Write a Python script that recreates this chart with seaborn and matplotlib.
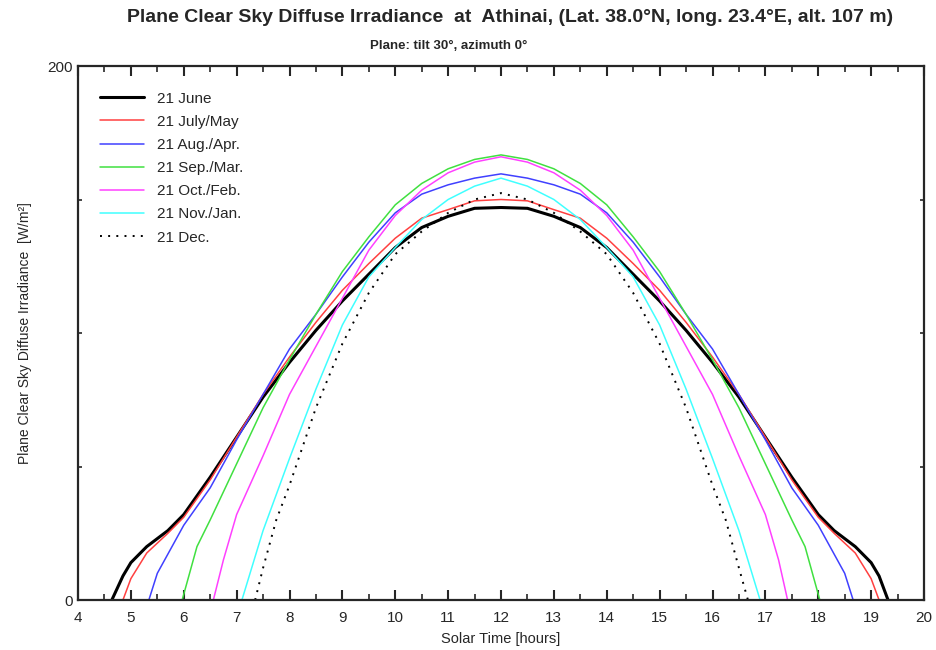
import matplotlib
matplotlib.use("Agg")
import matplotlib.pyplot as plt
import seaborn as sns
import pandas as pd
from matplotlib.ticker import MultipleLocator, FixedLocator

sns.set_style("ticks")
plt.rcParams['font.family'] = ['Liberation Sans', 'DejaVu Sans']

# ---- data (solar time [h], irradiance [W/m2]) ----
june_t = [4.64, 4.85, 5.0, 5.3, 5.7, 6.0, 6.25, 6.5, 7.0, 7.5, 8.0, 8.5, 9.0, 9.5, 10.0, 10.5, 11.0, 11.5, 12.0,
          12.5, 13.0, 13.5, 14.0, 14.5, 15.0, 15.5, 16.0, 16.5, 17.0, 17.5, 17.75, 18.0, 18.3, 18.7, 19.0, 19.15, 19.32]
june_v = [0, 9, 14, 20, 26, 32, 39, 46, 61, 76, 89, 101, 112, 122, 132, 139.5, 143.7, 146.7, 147,
          146.7, 143.7, 139.5, 132, 122, 112, 101, 89, 76, 61, 46, 39, 32, 26, 20, 14, 9, 0]

julmay_t = [4.85, 5.0, 5.3, 5.7, 6.0, 6.5, 7.0, 7.5, 8.0, 8.5, 9.0, 9.5, 10.0, 10.5, 11.0, 11.5, 12.0,
            12.5, 13.0, 13.5, 14.0, 14.5, 15.0, 15.5, 16.0, 16.5, 17.0, 17.5, 18.0, 18.3, 18.7, 19.0, 19.15]
julmay_v = [0, 8, 17.6, 25, 31, 45, 61, 77, 91, 104, 116, 126, 135.5, 143, 146.2, 149.5, 150,
            149.5, 146.2, 143, 135.5, 126, 116, 104, 91, 77, 61, 45, 31, 25, 17.6, 8, 0]

augapr_t = [5.34, 5.5, 6.0, 6.5, 7.0, 7.5, 8.0, 8.5, 9.0, 9.5, 10.0, 10.5, 11.0, 11.5, 12.0,
            12.5, 13.0, 13.5, 14.0, 14.5, 15.0, 15.5, 16.0, 16.5, 17.0, 17.5, 18.0, 18.5, 18.66]
augapr_v = [0, 10, 28, 42, 60, 77, 94, 107, 121, 134, 145, 152, 155.5, 158, 159.6,
            158, 155.5, 152, 145, 134, 121, 107, 94, 77, 60, 42, 28, 10, 0]

sepmar_t = [5.97, 6.25, 6.5, 7.0, 7.5, 8.0, 8.5, 9.0, 9.5, 10.0, 10.5, 11.0, 11.5, 12.0,
            12.5, 13.0, 13.5, 14.0, 14.5, 15.0, 15.5, 16.0, 16.5, 17.0, 17.5, 17.75, 18.03]
sepmar_v = [0, 20, 30, 51, 72, 90, 107, 123, 136, 148, 156, 161.5, 165, 166.7,
            165, 161.5, 156, 148, 136, 123, 107, 90, 72, 51, 30, 20, 0]

octfeb_t = [6.56, 6.75, 7.0, 7.5, 8.0, 8.5, 9.0, 9.5, 10.0, 10.5, 11.0, 11.5, 12.0,
            12.5, 13.0, 13.5, 14.0, 14.5, 15.0, 15.5, 16.0, 16.5, 17.0, 17.25, 17.42]
octfeb_v = [0, 15, 32, 54, 77, 95, 113, 131, 144, 153.5, 160, 164, 166,
            164, 160, 153.5, 144, 131, 113, 95, 77, 54, 32, 15, 0]

novjan_t = [7.1, 7.5, 8.0, 8.5, 9.0, 9.5, 10.0, 10.5, 11.0, 11.5, 12.0,
            12.5, 13.0, 13.5, 14.0, 14.5, 15.0, 15.5, 16.0, 16.5, 16.9]
novjan_v = [0, 26, 53, 79, 103, 121, 132, 142.5, 150, 155, 158,
            155, 150, 142.5, 132, 121, 103, 79, 53, 26, 0]

dec_t = [7.35, 7.5, 7.75, 8.0, 8.5, 9.0, 9.5, 10.0, 10.5, 11.0, 11.5, 12.0,
         12.5, 13.0, 13.5, 14.0, 14.5, 15.0, 15.5, 16.0, 16.25, 16.5, 16.67]
dec_v = [0, 12, 30, 43, 72, 96, 115, 129.5, 138, 145, 150, 152.4,
         150, 145, 138, 129.5, 115, 96, 72, 43, 30, 12, 0]

labels = ["21 June", "21 July/May", "21 Aug./Apr.", "21 Sep./Mar.",
          "21 Oct./Feb.", "21 Nov./Jan.", "21 Dec."]
x_ticks = list(range(4, 21))
y_tick_labels = [0, 200]

series = [(june_t, june_v), (julmay_t, julmay_v), (augapr_t, augapr_v), (sepmar_t, sepmar_v),
          (octfeb_t, octfeb_v), (novjan_t, novjan_v), (dec_t, dec_v)]

frames = []
for lab, (t, v) in zip(labels, series):
    frames.append(pd.DataFrame({"t": t, "v": v, "series": lab}))
df = pd.concat(frames, ignore_index=True)

colors = ["#000000", "#ff4040", "#4040ff", "#40e040", "#ff40ff", "#40ffff", "#000000"]
widths = [2.2, 1.1, 1.1, 1.1, 1.1, 1.1, 1.4]
styles = ["-", "-", "-", "-", "-", "-", (0, (1, 3.2))]

fig = plt.figure(figsize=(9.36, 6.5), dpi=100)
ax = fig.add_axes([78 / 936, 50 / 650, 846 / 936, 534 / 650])

for lab, c, w, s in zip(labels, colors, widths, styles):
    sub = df[df["series"] == lab]
    sns.lineplot(data=sub, x="t", y="v", ax=ax, color=c, linewidth=w, linestyle=s,
                 label=lab, sort=False, estimator=None)

ax.set_xlim(4, 20)
ax.set_ylim(0, 200)
ax.xaxis.set_major_locator(FixedLocator(x_ticks))
ax.xaxis.set_minor_locator(MultipleLocator(0.5))
ax.yaxis.set_major_locator(FixedLocator(y_tick_labels))
ax.yaxis.set_minor_locator(FixedLocator([50, 100, 150]))
ax.tick_params(axis='x', which='major', direction='in', length=7, width=1.5,
               top=True, labelsize=11, pad=8)
ax.tick_params(axis='x', which='minor', direction='in', length=4, width=1.2, top=True)
ax.tick_params(axis='y', which='major', direction='in', length=0, labelsize=11, pad=4)
ax.tick_params(axis='y', which='minor', direction='in', length=3, width=1.2, right=True)
for sp in ax.spines.values():
    sp.set_linewidth(1.6)
    sp.set_visible(True)

ax.set_xlabel("Solar Time [hours]", fontsize=10.5, labelpad=5)
ax.set_ylabel("Plane Clear Sky Diffuse Irradiance  [W/m²]", fontsize=10, labelpad=11)

fig.text(510 / 936, 1 - 18 / 650, "Plane Clear Sky Diffuse Irradiance  at  Athinai, (Lat. 38.0°N, long. 23.4°E, alt. 107 m)",
         ha='center', va='center', fontsize=14, fontweight='bold')
fig.text(449 / 936, 1 - 46 / 650, "Plane: tilt 30°, azimuth 0°",
         ha='center', va='center', fontsize=9.5, fontweight='bold')

leg = ax.legend(loc='upper left', bbox_to_anchor=(0.026, 0.952), frameon=False,
                borderaxespad=0, borderpad=0, fontsize=11, handlelength=2.9,
                handletextpad=0.8, labelspacing=0.6)

fig.savefig("out.png", dpi=100)
